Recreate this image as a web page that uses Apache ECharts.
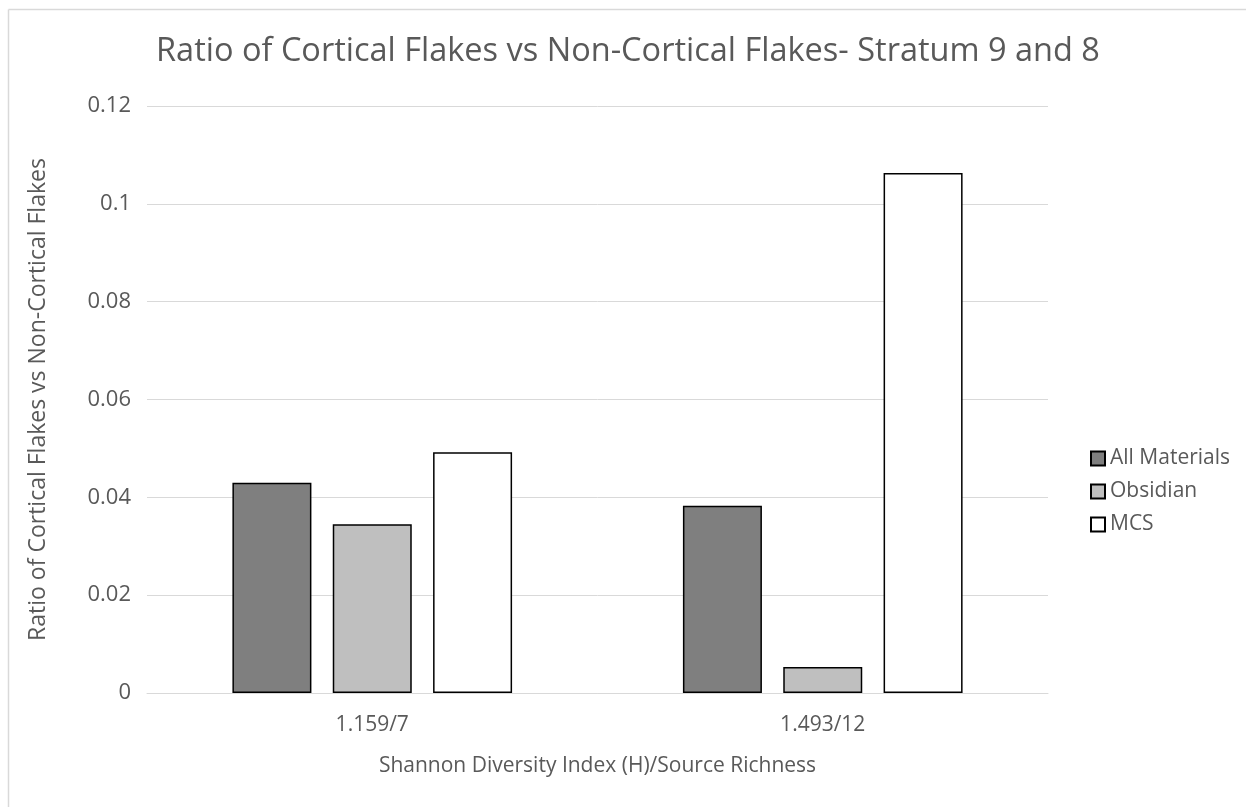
<!DOCTYPE html>
<html>
<head>
<meta charset="utf-8">
<script src="https://cdn.jsdelivr.net/npm/echarts@6/dist/echarts.min.js"></script>
<style>
  html, body { margin: 0; padding: 0; background: #fff; }
  #main { width: 1246px; height: 807px; }
</style>
</head>
<body>
<div id="main"></div>
<script>
// 数据
var categories = ['1.159/7', '1.493/12'];
var allMaterials = [0.0430, 0.0383];
var obsidian = [0.0345, 0.0053];
var mcs = [0.0492, 0.1063];
var yTicks = [0, 0.02, 0.04, 0.06, 0.08, 0.1, 0.12];

var textColor = '#595959';
var fontFam = '"Open Sans", "Noto Sans", sans-serif';

var myChart = echarts.init(document.getElementById('main'));

function barSeries(name, data, color) {
    return {
        name: name,
        type: 'bar',
        data: data,
        barWidth: 79,
        barGap: '27%',
        itemStyle: { color: color, borderColor: '#000', borderWidth: 1.5 }
    };
}

var option = {
    backgroundColor: '#fff',
    animation: false,
    textStyle: { fontFamily: fontFam },
    title: {
        text: 'Ratio of Cortical Flakes vs Non-Cortical Flakes- Stratum 9 and 8',
        left: 623,
        top: 30,
        textAlign: 'center',
        textStyle: { color: textColor, fontSize: 32.5, fontWeight: 'normal', fontFamily: fontFam }
    },
    legend: {
        orient: 'vertical',
        left: 1085,
        top: 443,
        itemWidth: 14,
        itemHeight: 14,
        itemGap: 12,
        icon: 'rect',
        textStyle: { color: textColor, fontSize: 21, fontFamily: fontFam },
        data: ['All Materials', 'Obsidian', 'MCS']
    },
    grid: { left: 147, right: 198, top: 106, bottom: 114, containLabel: false },
    xAxis: {
        type: 'category',
        data: categories,
        name: 'Shannon Diversity Index (H)/Source Richness',
        nameLocation: 'middle',
        nameGap: 63,
        nameTextStyle: { color: textColor, fontSize: 21, fontFamily: fontFam },
        axisLine: { lineStyle: { color: '#d9d9d9', width: 1 } },
        axisTick: { show: false },
        axisLabel: { color: textColor, fontSize: 21, margin: 22, fontFamily: fontFam }
    },
    yAxis: {
        type: 'value',
        min: 0,
        max: 0.12,
        interval: 0.02,
        name: 'Ratio of Cortical Flakes vs Non-Cortical Flakes',
        nameLocation: 'middle',
        nameGap: 97,
        nameTextStyle: { color: textColor, fontSize: 23, fontFamily: fontFam },
        axisLine: { show: false },
        axisTick: { show: false },
        splitLine: { lineStyle: { color: '#d9d9d9', width: 1 } },
        axisLabel: {
            color: textColor, fontSize: 22, margin: 16, fontFamily: fontFam,
            formatter: function (v) {
                var t = yTicks.find(function (x) { return Math.abs(x - v) < 1e-9; });
                return t === undefined ? '' : String(t);
            }
        }
    },
    graphic: [
        { type: 'line', shape: { x1: 8.5, y1: 9.5, x2: 8.5, y2: 807 }, style: { stroke: '#d9d9d9', lineWidth: 1.5 } },
        { type: 'line', shape: { x1: 8.5, y1: 9.5, x2: 1246, y2: 9.5 }, style: { stroke: '#d9d9d9', lineWidth: 1.5 } }
    ],
    series: [
        barSeries('All Materials', allMaterials, '#7f7f7f'),
        barSeries('Obsidian', obsidian, '#bfbfbf'),
        barSeries('MCS', mcs, '#ffffff')
    ]
};

myChart.setOption(option);
</script>
</body>
</html>
